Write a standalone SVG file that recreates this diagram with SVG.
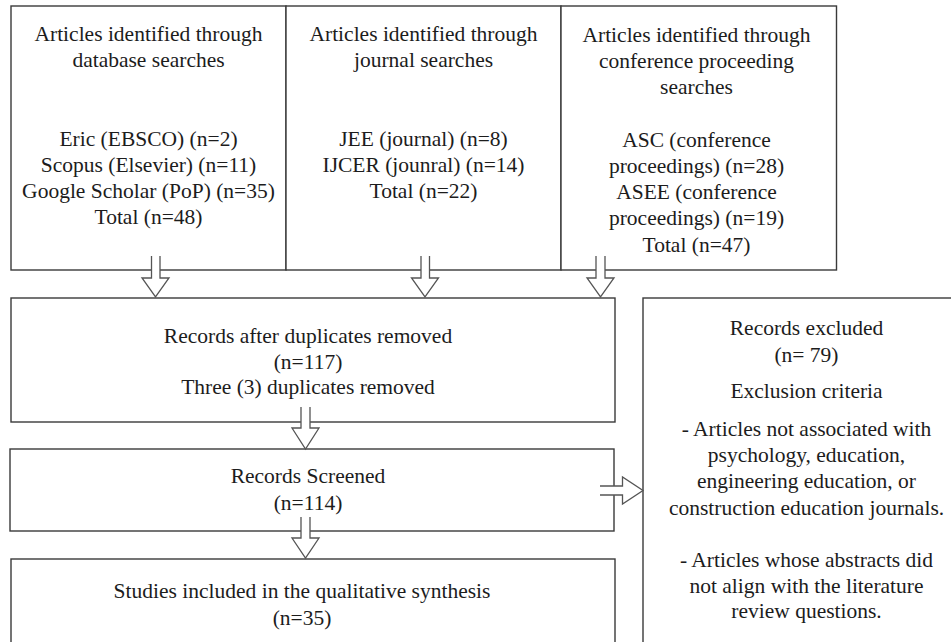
<svg xmlns="http://www.w3.org/2000/svg" width="951" height="642" viewBox="0 0 951 642">
<style>
.box{fill:#ffffff;stroke:#3a3a3a;stroke-width:1.4}
.t{font-family:"Liberation Serif","Times New Roman",serif;font-size:21.5px;fill:#1c1c1c;text-anchor:middle}
.arr{fill:#ffffff;stroke:#555555;stroke-width:1.3;stroke-linejoin:miter}
</style>
<rect width="951" height="642" fill="#ffffff"/>
<g id="db">
<rect class="box" x="11" y="6" width="275" height="264"/>
<text class="t" x="148.5" y="41">Articles identified through</text>
<text class="t" x="148.5" y="67">database searches</text>
<text class="t" x="148.5" y="146">Eric (EBSCO) (n=2)</text>
<text class="t" x="148.5" y="172">Scopus (Elsevier) (n=11)</text>
<text class="t" x="148.5" y="198">Google Scholar (PoP) (n=35)</text>
<text class="t" x="148.5" y="224">Total (n=48)</text>
</g>
<g id="journal">
<rect class="box" x="286" y="6" width="275" height="264"/>
<text class="t" x="423.5" y="41">Articles identified through</text>
<text class="t" x="423.5" y="67">journal searches</text>
<text class="t" x="423.5" y="146">JEE (journal) (n=8)</text>
<text class="t" x="423.5" y="172">IJCER (jounral) (n=14)</text>
<text class="t" x="423.5" y="198">Total (n=22)</text>
</g>
<g id="conf">
<rect class="box" x="561" y="6" width="275.5" height="264"/>
<text class="t" x="696.5" y="42">Articles identified through</text>
<text class="t" x="696.5" y="68">conference proceeding</text>
<text class="t" x="696.5" y="94">searches</text>
<text class="t" x="696.5" y="147">ASC (conference</text>
<text class="t" x="696.5" y="173">proceedings) (n=28)</text>
<text class="t" x="696.5" y="199">ASEE (conference</text>
<text class="t" x="696.5" y="225">proceedings) (n=19)</text>
<text class="t" x="696.5" y="252">Total (n=47)</text>
</g>
<g id="dedup">
<rect class="box" x="11" y="298" width="604" height="124"/>
<text class="t" x="308" y="343">Records after duplicates removed</text>
<text class="t" x="308" y="369">(n=117)</text>
<text class="t" x="308" y="394">Three (3) duplicates removed</text>
</g>
<g id="screened">
<rect class="box" x="10" y="449" width="604" height="82"/>
<text class="t" x="308" y="483">Records Screened</text>
<text class="t" x="308" y="510">(n=114)</text>
</g>
<g id="included">
<rect class="box" x="11" y="559" width="604" height="100"/>
<text class="t" x="302" y="598">Studies included in the qualitative synthesis</text>
<text class="t" x="302" y="625">(n=35)</text>
</g>
<g id="excluded">
<rect class="box" x="643" y="298" width="320" height="360"/>
<text class="t" x="806.5" y="335">Records excluded</text>
<text class="t" x="806.5" y="362">(n= 79)</text>
<text class="t" x="806.5" y="398">Exclusion criteria</text>
<text class="t" x="806.5" y="436">- Articles not associated with</text>
<text class="t" x="806.5" y="462">psychology, education,</text>
<text class="t" x="806.5" y="488">engineering education, or</text>
<text class="t" x="806.5" y="515">construction education journals.</text>
<text class="t" x="806.5" y="567">- Articles whose abstracts did</text>
<text class="t" x="806.5" y="593">not align with the literature</text>
<text class="t" x="806.5" y="618">review questions.</text>
</g>
<g id="connectors">
<path class="arr" d="M151.5,256 L151.5,278 L142,278 L155.5,297 L169,278 L160,278 L160,256"/>
<path class="arr" d="M421,256 L421,278 L411.5,278 L425,297 L438.5,278 L429.5,278 L429.5,256"/>
<path class="arr" d="M596,256 L596,278 L587,278 L600.5,297 L614,278 L605,278 L605,256"/>
<path class="arr" d="M301,407 L301,428 L292,428 L305.5,449 L319,428 L310,428 L310,407"/>
<path class="arr" d="M301,517 L301,538 L292,538 L305.5,558 L319,538 L310,538 L310,517"/>
<path class="arr" d="M600,486 L622.5,486 L622.5,477 L643,490.5 L622.5,504 L622.5,495 L600,495"/>
</g>
</svg>
